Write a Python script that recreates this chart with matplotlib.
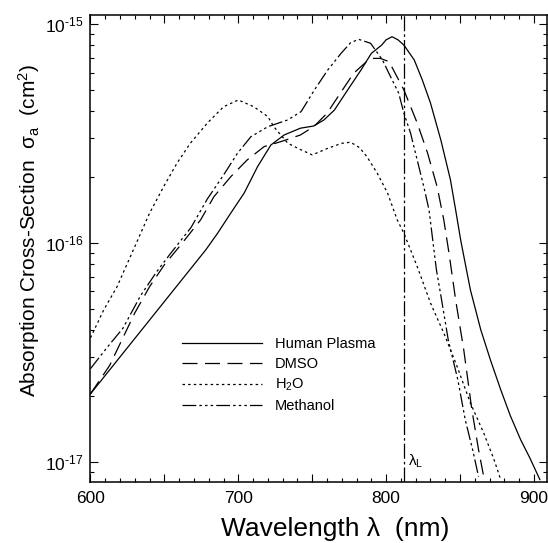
import matplotlib
matplotlib.use("Agg")
import matplotlib.pyplot as plt
import numpy as np
from matplotlib.ticker import FixedLocator, MultipleLocator, FuncFormatter, NullFormatter

plt.rcParams['font.family'] = ['Liberation Sans', 'DejaVu Sans']
plt.rcParams['mathtext.fontset'] = 'custom'
plt.rcParams['mathtext.rm'] = 'Liberation Sans'
plt.rcParams['mathtext.it'] = 'Liberation Sans:italic'

# wavelength (nm) and log10 of cross-section (cm^2)
plasma_nm = [600, 678, 686, 695, 704, 713, 722, 731, 742, 751, 758, 765, 774, 783,
             790, 797, 800, 804, 808, 812, 819, 824.5, 830, 837, 843.5, 847, 850.5,
             857, 864, 870.5, 877.5, 884, 891, 897, 904]
plasma_log = [-16.69, -16.032, -15.956, -15.863, -15.772, -15.652, -15.553, -15.507,
              -15.476, -15.466, -15.438, -15.393, -15.301, -15.210, -15.134, -15.096,
              -15.072, -15.058, -15.072, -15.096, -15.164, -15.256, -15.361, -15.530,
              -15.712, -15.849, -15.99, -16.215, -16.397, -16.534, -16.671, -16.79,
              -16.9, -16.98, -17.082]

dmso_nm = [600, 613, 630, 640, 650, 661, 674.5, 683.5, 695, 706, 717.5, 729, 742,
           751, 760, 769, 778, 787, 791, 796, 802, 812, 821, 828, 834.5, 839, 842.5,
           847, 852.5, 858, 862.5, 866]
dmso_log = [-16.69, -16.56, -16.32, -16.20, -16.10, -16.01, -15.895, -15.789, -15.697,
            -15.621, -15.560, -15.537, -15.507, -15.469, -15.408, -15.316, -15.225,
            -15.170, -15.157, -15.157, -15.172, -15.301, -15.452, -15.589, -15.744,
            -15.895, -16.046, -16.26, -16.489, -16.763, -16.945, -17.068]

water_nm = [600, 609, 618, 629, 640, 649.5, 658.5, 667.5, 679, 690, 700, 710.5, 720,
            724, 733.5, 742.5, 750, 760.5, 770, 776, 782, 787, 794, 801, 807.5, 812,
            821, 830, 839, 848, 857, 866, 873, 877.5]
water_log = [-16.434, -16.306, -16.2, -16.032, -15.864, -15.743, -15.636, -15.545,
             -15.453, -15.378, -15.347, -15.378, -15.423, -15.469, -15.545, -15.575,
             -15.598, -15.568, -15.545, -15.540, -15.565, -15.606, -15.682, -15.773,
             -15.895, -15.956, -16.108, -16.275, -16.412, -16.565, -16.732, -16.869,
             -16.991, -17.082]

methanol_nm = [600, 611, 622, 634, 645, 654, 668, 679, 690, 699.5, 708.5, 720, 733.5,
               742.5, 751.5, 760.5, 769.5, 776, 781.5, 789.5, 797.5, 803, 808.5, 812,
               816.5, 821, 825.5, 829, 831.5, 834, 837.5, 842, 848.5, 853.5, 858.5,
               862.5]
methanol_log = [-16.575, -16.48, -16.39, -16.24, -16.13, -16.05, -15.93, -15.80, -15.69,
                -15.59, -15.515, -15.469, -15.438, -15.400, -15.301, -15.210, -15.134,
                -15.085, -15.070, -15.088, -15.164, -15.241, -15.316, -15.407, -15.498,
                -15.621, -15.744, -15.849, -15.986, -16.123, -16.26, -16.443, -16.626,
                -16.808, -16.945, -17.068]

laser_nm = 812

labels = ['Human Plasma', 'DMSO', 'H$_\\mathregular{2}$O', 'Methanol']
x_ticks = [600, 650, 700, 750, 800, 850, 900]
y_ticks = [1e-17, 1e-16, 1e-15]

fig = plt.figure(figsize=(5.48, 5.43), dpi=100)
ax = fig.add_axes([0.1651, 0.1129, 0.8325, 0.8595])

lw = 0.9
ax.plot(plasma_nm, 10.0 ** np.array(plasma_log), color='black', lw=lw,
        linestyle='-', label=labels[0])
ax.plot(dmso_nm, 10.0 ** np.array(dmso_log), color='black', lw=lw,
        linestyle=(0, (12, 6)), label=labels[1])
ax.plot(water_nm, 10.0 ** np.array(water_log), color='black', lw=lw,
        linestyle=(0, (2, 2.5)), label=labels[2])
ax.plot(methanol_nm, 10.0 ** np.array(methanol_log), color='black', lw=lw,
        linestyle=(0, (11, 2.5, 2, 2.5, 2, 2.5, 2, 2.5)), label=labels[3])

ax.axvline(laser_nm, color='black', lw=0.9, linestyle=(0, (12, 2.5, 2, 2.5)))
ax.text(laser_nm + 2.5, 1.0e-17, '$\\mathregular{\\lambda_L}$', fontsize=11,
        va='center', ha='left')

ax.set_yscale('log')
ax.set_xlim(600, 908.6)
ax.set_ylim(8.1e-18, 1.1e-15)

ax.xaxis.set_major_locator(FixedLocator(x_ticks))
ax.xaxis.set_minor_locator(MultipleLocator(10))
ax.xaxis.set_major_formatter(FuncFormatter(
    lambda v, p: '%d' % v if abs(v % 100) < 1e-6 else ''))
ax.yaxis.set_major_locator(FixedLocator(y_ticks))
ax.yaxis.set_major_formatter(FuncFormatter(
    lambda v, p: '10$^{\\text{-%d}}$' % -round(np.log10(v))))
minor_y = [m * 10.0 ** e for e in (-18, -17, -16) for m in range(2, 10)]
ax.yaxis.set_minor_locator(FixedLocator([v for v in minor_y if 8.1e-18 <= v <= 1.1e-15]))
ax.yaxis.set_minor_formatter(NullFormatter())

ax.tick_params(which='both', direction='in', top=True, right=True, width=0.8)
ax.tick_params(which='major', length=6, labelsize=12.5, pad=7)
ax.tick_params(axis='y', which='major', pad=5)
ax.tick_params(which='minor', length=3)
for s in ax.spines.values():
    s.set_linewidth(1.1)

ax.set_xlabel('Wavelength λ  (nm)', fontsize=19)
ax.xaxis.set_label_coords(0.536, -0.075)
ax.set_ylabel('Absorption Cross-Section  σ$_\\mathregular{a}$  (cm$^\\mathregular{2}$)',
              fontsize=15)
ax.yaxis.set_label_coords(-0.106, 0.538)

ax.legend(loc='upper left', bbox_to_anchor=(0.2, 0.31), frameon=False,
          fontsize=10.5, handlelength=5.5, handletextpad=0.9, labelspacing=0.4,
          borderpad=0, borderaxespad=0)

fig.savefig('out.png', dpi=100)
